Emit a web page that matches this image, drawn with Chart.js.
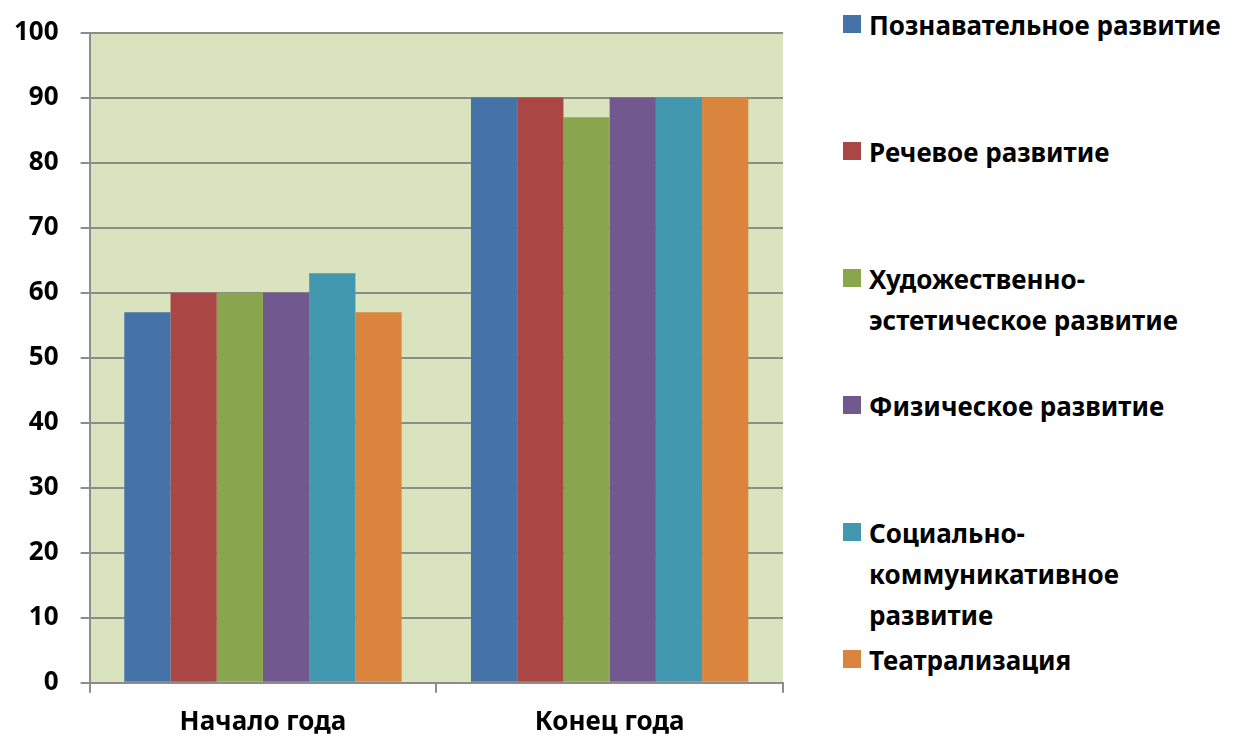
<!DOCTYPE html>
<html>
<head>
<meta charset="utf-8">
<script src="https://cdn.jsdelivr.net/npm/chart.js@4.4.1/dist/chart.umd.min.js"></script>
<style>
  html, body { margin: 0; padding: 0; background: #ffffff; overflow: hidden; }
  #wrap { position: relative; width: 1234px; height: 738px; overflow: hidden; }
  #chartBox { position: absolute; left: -16px; top: -5px; width: 826px; height: 757px; }
  #legend { position: absolute; left: 843px; top: 6px; width: 391px; font-family: "Noto Sans", sans-serif; font-weight: 700; font-size: 26px; color: #000; }
  .item { height: 127px; display: flex; align-items: flex-start; }
  .box { width: 18px; height: 18px; margin-top: 9px; margin-right: 8px; flex: none; }
  .txt { line-height: 41px; margin-top: -1px; white-space: nowrap; }
</style>
</head>
<body>
<div id="wrap">
  <div id="chartBox"><canvas id="barChart"></canvas></div>
  <div id="legend"></div>
</div>
<script>
var categories = ['Начало года', 'Конец года'];
var seriesNames = [
    'Познавательное развитие',
    'Речевое развитие',
    'Художественно-\nэстетическое развитие',
    'Физическое развитие',
    'Социально-\nкоммуникативное\nразвитие',
    'Театрализация'
];
var cognitive = [57, 90];
var speech = [60, 90];
var artistic = [60, 87];
var physical = [60, 90];
var social = [63, 90];
var theatre = [57, 90];
var yTicks = [0, 10, 20, 30, 40, 50, 60, 70, 80, 90, 100];

var colors = ['#4572a7', '#aa4643', '#89a54e', '#71588f', '#4198af', '#db843d'];
var seriesValues = [cognitive, speech, artistic, physical, social, theatre];

var plotBg = {
    id: 'plotBg',
    beforeDraw: function(chart) {
        var a = chart.chartArea;
        var ctx = chart.ctx;
        ctx.save();
        ctx.fillStyle = '#d9e4bf';
        ctx.fillRect(a.left, a.top, a.right - a.left, a.bottom - a.top);
        ctx.restore();
    }
};

var datasets = seriesValues.map(function(vals, i) {
    return {
        label: seriesNames[i].replace(/\n/g, ' '),
        data: vals,
        backgroundColor: colors[i],
        borderWidth: 0,
        barPercentage: 1.0,
        categoryPercentage: 0.8
    };
});

var tickFont = { family: 'Noto Sans', weight: 'bold', size: 26 };

new Chart(document.getElementById('barChart').getContext('2d'), {
    type: 'bar',
    data: { labels: categories, datasets: datasets },
    plugins: [plotBg],
    options: {
        responsive: true,
        maintainAspectRatio: false,
        animation: false,
        layout: { padding: { top: 27, right: 27, left: 8, bottom: 0 } },
        plugins: {
            legend: { display: false },
            tooltip: { enabled: false }
        },
        scales: {
            y: {
                min: 0,
                max: 100,
                afterBuildTicks: function(axis) {
                    axis.ticks = yTicks.map(function(v) { return { value: v }; });
                },
                ticks: {
                    color: '#000',
                    padding: 22,
                    font: tickFont
                },
                grid: { color: '#8c8c8c', lineWidth: 2, tickLength: 9 },
                border: { color: '#8c8c8c', width: 2 }
            },
            x: {
                offset: true,
                ticks: {
                    color: '#000',
                    padding: 14,
                    font: tickFont
                },
                grid: { offset: true, drawOnChartArea: false, color: '#8c8c8c', lineWidth: 2, tickLength: 10 },
                border: { color: '#8c8c8c', width: 2 }
            }
        }
    }
});

var legend = document.getElementById('legend');
seriesNames.forEach(function(name, i) {
    var item = document.createElement('div');
    item.className = 'item';
    var box = document.createElement('div');
    box.className = 'box';
    box.style.background = colors[i];
    var txt = document.createElement('div');
    txt.className = 'txt';
    txt.innerHTML = name.split('\n').join('<br>');
    item.appendChild(box);
    item.appendChild(txt);
    legend.appendChild(item);
});
</script>
</body>
</html>
